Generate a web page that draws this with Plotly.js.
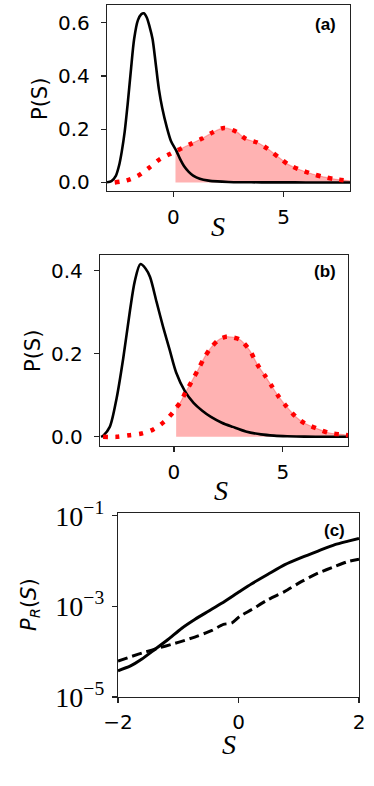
<!DOCTYPE html>
<html>
<head>
<meta charset="utf-8">
<script src="https://cdn.plot.ly/plotly-3.0.1.min.js"></script>
<style>
  html, body { margin: 0; padding: 0; background: #fff; }
  #plot { width: 374px; height: 786px; }
</style>
</head>
<body>
<div id="plot"></div>
<script>
// panel (a)
var sBlackA = [-3.0, -2.8, -2.6, -2.45, -2.33, -2.2, -2.07, -1.92, -1.77, -1.6, -1.45, -1.33, -1.2, -1.07, -0.94, -0.8, -0.65, -0.5, -0.3, -0.1, 0.15, 0.3, 0.5, 0.7, 0.9, 1.2, 1.6, 2.0, 2.5, 3, 4, 5, 6, 7, 8];
var pBlackA = [0.001, 0.005, 0.025, 0.065, 0.117, 0.19, 0.29, 0.42, 0.54, 0.61, 0.632, 0.636, 0.62, 0.585, 0.54, 0.45, 0.35, 0.28, 0.21, 0.155, 0.117, 0.09, 0.06, 0.04, 0.026, 0.014, 0.007, 0.004, 0.002, 0.001, 0.0005, 0.0003, 0.0002, 0.0001, 0.0001];
var sRedA = [-2.65, -2.1, -1.6, -1.1, -0.6, -0.2, 0.1, 0.3, 0.8, 1.3, 1.8, 2.3, 2.85, 3.3, 3.8, 4.3, 4.8, 5.2, 5.7, 6.3, 6.8, 7.35, 8.0];
var pRedA = [0.0, 0.008, 0.025, 0.055, 0.088, 0.105, 0.118, 0.125, 0.145, 0.165, 0.189, 0.205, 0.191, 0.163, 0.15, 0.125, 0.093, 0.068, 0.049, 0.032, 0.021, 0.012, 0.006];

// panel (b)
var sBlackB = [-3.35, -3.25, -2.95, -2.64, -2.33, -2.02, -1.8, -1.55, -1.3, -1.1, -0.8, -0.5, -0.2, 0.1, 0.5, 0.9, 1.3, 1.7, 2.2, 2.7, 3.3, 4.0, 4.6, 5.2, 6, 7, 8];
var pBlackB = [0.0, 0.003, 0.024, 0.092, 0.19, 0.305, 0.375, 0.416, 0.405, 0.385, 0.325, 0.265, 0.21, 0.155, 0.11, 0.082, 0.063, 0.048, 0.034, 0.024, 0.013, 0.006, 0.003, 0.0015, 0.0005, 0.0002, 0.0001];
var sRedB = [-3.26, -2.64, -2.06, -1.49, -0.95, -0.46, -0.06, 0.1, 0.28, 0.55, 0.81, 1.12, 1.41, 1.72, 2.09, 2.4, 2.66, 3.04, 3.47, 3.85, 4.19, 4.5, 4.8, 5.19, 5.61, 6.03, 6.57, 7.1, 7.64, 8.0];
var pRedB = [0.0, 0.0, 0.004, 0.008, 0.018, 0.036, 0.058, 0.07, 0.082, 0.109, 0.133, 0.163, 0.192, 0.216, 0.235, 0.241, 0.24, 0.234, 0.209, 0.173, 0.147, 0.122, 0.098, 0.072, 0.048, 0.032, 0.02, 0.01, 0.006, 0.004];

// panel (c)
var sSolidC = [-2.0, -1.8, -1.61, -1.39, -1.17, -0.94, -0.72, -0.5, -0.28, 0.02, 0.22, 0.49, 0.77, 1.05, 1.32, 1.6, 1.82, 2.0];
var pSolidC = [3.8e-5, 4.8e-5, 6.8e-5, 1.12e-4, 1.86e-4, 3.3e-4, 5.2e-4, 7.8e-4, 1.17e-3, 2.14e-3, 3.16e-3, 5.1e-3, 8.3e-3, 1.2e-2, 1.66e-2, 2.3e-2, 2.75e-2, 3.16e-2];
var sDashC = [-2.0, -1.77, -1.55, -1.33, -1.11, -0.89, -0.67, -0.44, -0.25, -0.11, 0.02, 0.22, 0.49, 0.77, 1.05, 1.32, 1.6, 1.82, 2.0];
var pDashC = [6.2e-5, 7.9e-5, 9.8e-5, 1.2e-4, 1.45e-4, 1.78e-4, 2.24e-4, 2.95e-4, 4.0e-4, 4.3e-4, 6.0e-4, 8.5e-4, 1.41e-3, 2.14e-3, 3.55e-3, 5.4e-3, 7.6e-3, 9.8e-3, 1.1e-2];

var fillStartA = 0.1;
var fillStartB = 0.1;

function after(xs, ys, x0) {
  var fx = [], fy = [];
  for (var i = 0; i < xs.length; i++) {
    if (xs[i] >= x0) { fx.push(xs[i]); fy.push(ys[i]); }
  }
  return {x: fx, y: fy};
}
var fa = after(sRedA, pRedA, fillStartA);
var fb = after(sRedB, pRedB, fillStartB);

var fillLine = {color: "rgba(255,0,0,0.3)", width: 1.2, shape: "spline", smoothing: 0.8};
var blackLine = {color: "black", width: 2.6, shape: "spline", smoothing: 0.8};
var redLine = {color: "red", width: 4.5, dash: "4.5px,7.5px", shape: "spline", smoothing: 0.8};

var data = [
  {x: fa.x, y: fa.y, xaxis: "x", yaxis: "y", mode: "lines", fill: "tozeroy", fillcolor: "rgba(255,0,0,0.3)", line: fillLine},
  {x: sBlackA, y: pBlackA, xaxis: "x", yaxis: "y", mode: "lines", line: blackLine},
  {x: sRedA, y: pRedA, xaxis: "x", yaxis: "y", mode: "lines", line: redLine},

  {x: fb.x, y: fb.y, xaxis: "x2", yaxis: "y2", mode: "lines", fill: "tozeroy", fillcolor: "rgba(255,0,0,0.3)", line: fillLine},
  {x: sBlackB, y: pBlackB, xaxis: "x2", yaxis: "y2", mode: "lines", line: blackLine},
  {x: sRedB, y: pRedB, xaxis: "x2", yaxis: "y2", mode: "lines", line: redLine},

  {x: sSolidC, y: pSolidC, xaxis: "x3", yaxis: "y3", mode: "lines", line: {color: "black", width: 3, shape: "spline", smoothing: 0.6}},
  {x: sDashC, y: pDashC, xaxis: "x3", yaxis: "y3", mode: "lines", line: {color: "black", width: 3, dash: "10px,5px", shape: "spline", smoothing: 0.6}}
];

var W = 374, H = 786;
function px(v) { return v / W; }
function py(v) { return 1 - v / H; }

function ax(extra) {
  var a = {
    showline: true, mirror: true, linecolor: "#222", linewidth: 1.2,
    ticks: "outside", ticklen: 5, tickwidth: 1.2, tickcolor: "#222",
    showgrid: false, zeroline: false,
    tickfont: {family: "DejaVu Sans", size: 20, color: "black"}
  };
  for (var k in extra) a[k] = extra[k];
  return a;
}

var layout = {
  width: W, height: H,
  margin: {l: 0, r: 0, t: 0, b: 0},
  paper_bgcolor: "white", plot_bgcolor: "white",
  showlegend: false,
  xaxis: ax({domain: [px(107), px(350)], range: [-3, 8], tickvals: [0, 5], ticklabelstandoff: 3, anchor: "y"}),
  yaxis: ax({domain: [py(191), py(5)], range: [-0.032, 0.667], tickvals: [0, 0.2, 0.4, 0.6], tickformat: ".1f", ticklabelstandoff: 7, anchor: "x"}),
  xaxis2: ax({domain: [px(100), px(348)], range: [-3.4, 8], tickvals: [0, 5], ticklabelstandoff: 3, anchor: "y2"}),
  yaxis2: ax({domain: [py(446), py(255)], range: [-0.022, 0.438], tickvals: [0, 0.2, 0.4], tickformat: ".1f", ticklabelstandoff: 7, anchor: "x2"}),
  xaxis3: ax({domain: [px(118), px(359)], range: [-2, 2], tickvals: [-2, 0, 2], ticklabelstandoff: 2, anchor: "y3"}),
  yaxis3: ax({domain: [py(697), py(513)], type: "log", range: [-5, -0.94],
    tickvals: [1e-5, 1e-3, 1e-1], ticktext: ["10<sup>\u22125</sup>", "10<sup>\u22123</sup>", "10<sup>\u22121</sup>"],
    tickfont: {family: "Liberation Serif", size: 28, color: "black"}, ticklabelstandoff: 2, anchor: "x3"}),
  annotations: [
    {text: "<b>(a)</b>", xref: "paper", yref: "paper", x: px(338), y: py(24), xanchor: "right", yanchor: "middle", showarrow: false, font: {family: "Liberation Sans", size: 17, color: "black"}},
    {text: "<b>(b)</b>", xref: "paper", yref: "paper", x: px(338), y: py(271), xanchor: "right", yanchor: "middle", showarrow: false, font: {family: "Liberation Sans", size: 17, color: "black"}},
    {text: "<b>(c)</b>", xref: "paper", yref: "paper", x: px(347), y: py(530), xanchor: "right", yanchor: "middle", showarrow: false, font: {family: "Liberation Sans", size: 17, color: "black"}},

    {text: "<i>S</i>", xref: "paper", yref: "paper", x: px(218), y: py(226), xanchor: "center", yanchor: "middle", showarrow: false, font: {family: "Liberation Serif", size: 28, color: "black"}},
    {text: "<i>S</i>", xref: "paper", yref: "paper", x: px(221), y: py(491), xanchor: "center", yanchor: "middle", showarrow: false, font: {family: "Liberation Serif", size: 28, color: "black"}},
    {text: "<i>S</i>", xref: "paper", yref: "paper", x: px(229), y: py(744), xanchor: "center", yanchor: "middle", showarrow: false, font: {family: "Liberation Serif", size: 28, color: "black"}},

    {text: "P(S)", textangle: -90, xref: "paper", yref: "paper", x: px(40), y: py(99), xanchor: "center", yanchor: "middle", showarrow: false, font: {family: "DejaVu Sans", size: 21, color: "black"}},
    {text: "P(S)", textangle: -90, xref: "paper", yref: "paper", x: px(33), y: py(351), xanchor: "center", yanchor: "middle", showarrow: false, font: {family: "DejaVu Sans", size: 21, color: "black"}},
    {text: "<i>P</i><sub><i>R</i></sub>(<i>S</i>)", textangle: -90, xref: "paper", yref: "paper", x: px(30), y: py(605), xanchor: "center", yanchor: "middle", showarrow: false, font: {family: "DejaVu Sans", size: 21, color: "black"}}
  ]
};

Plotly.newPlot("plot", data, layout, {displayModeBar: false, staticPlot: true});
</script>
</body>
</html>
